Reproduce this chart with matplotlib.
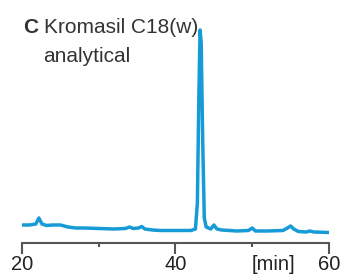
import matplotlib
matplotlib.use("Agg")
from matplotlib import pyplot as plt

plt.rcParams['font.family'] = ['Liberation Sans', 'DejaVu Sans']

# chromatogram trace (time in min, signal in arbitrary units)
time_min = [20.0, 21.0, 21.8, 22.2, 22.6, 23.2, 24.0, 25.0, 26.0, 27.0, 28.0,
            30.0, 32.0, 33.5, 34.0, 34.5, 35.2, 35.6, 36.0, 37.0, 38.0, 40.0,
            42.0, 42.6, 42.85, 43.05, 43.2, 43.35, 43.55, 43.75, 44.0, 44.6,
            45.0, 45.4, 46.0, 48.0, 49.5, 50.0, 50.4, 52.0, 54.0, 54.6, 55.0,
            55.4, 56.0, 57.0, 57.5, 58.0, 60.0]
signal = [18, 18, 19, 25, 19, 17.5, 18, 18, 16, 15, 15,
          14.5, 14, 14.5, 16, 14.5, 15, 16.5, 14, 13, 12.5, 12.5,
          12.5, 14, 40, 150, 213, 200, 100, 25, 16, 14,
          18, 14, 13, 12, 12.5, 15, 12, 12, 12.5, 15, 17,
          14, 11.5, 11, 12, 11, 10.5]

major_ticks = [20, 40, 60]
minor_ticks = [30, 50]

fig = plt.figure(figsize=(3.42, 2.75), dpi=100)
ax = fig.add_axes([0.0643, 0.1164, 0.8977, 0.8])
ax.plot(time_min, signal, color='#179bd7', lw=2.5, solid_joinstyle='round')

ax.set_xlim(20, 60)
ax.set_ylim(0, 220)
for s in ['left', 'right', 'top']:
    ax.spines[s].set_visible(False)
ax.spines['bottom'].set_color('#555555')
ax.spines['bottom'].set_linewidth(1.5)
ax.set_yticks([])
ax.set_xticks(major_ticks)
ax.set_xticks(minor_ticks, minor=True)
ax.tick_params(axis='x', which='major', length=8, width=1.5, color='#555555',
               labelsize=14.5, labelcolor='#222222', pad=1)
ax.tick_params(axis='x', which='minor', length=3, width=1.5, color='#555555')

ax.annotate('[min]', xy=(52.8, 0), xycoords=('data', 'axes fraction'),
            xytext=(0, -15.5), textcoords='offset points', ha='center', va='center',
            fontsize=14.5, color='#222222')

fig.text(23 / 342, 1 - 33 / 275, 'C', fontweight='bold', fontsize=15, color='#333333')
fig.text(44 / 342, 1 - 33 / 275, 'Kromasil C18(w)', fontsize=15, color='#333333')
fig.text(43 / 342, 1 - 62 / 275, 'analytical', fontsize=15, color='#333333')

fig.savefig('out.png', dpi=100)
